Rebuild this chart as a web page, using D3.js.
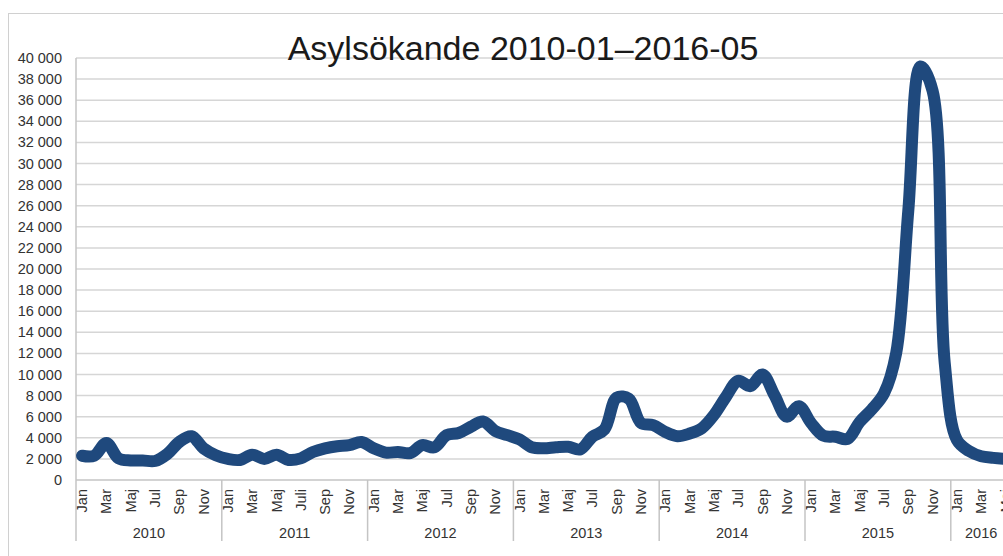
<!DOCTYPE html>
<html>
<head>
<meta charset="utf-8">
<script src="https://cdn.jsdelivr.net/npm/d3@7"></script>
<style>
  html, body { margin: 0; padding: 0; background: #fff; overflow: hidden; }
  svg { display: block; font-family: "Liberation Sans", Arial, sans-serif; }
</style>
</head>
<body>
<svg id="chart" width="1003" height="556"></svg>
<script>
// Asylum applications per month, Jan 2010 - May 2016
const years = [2010, 2011, 2012, 2013, 2014, 2015, 2016];
const monthNames = ["Jan", "Feb", "Mar", "Apr", "Maj", "Jun", "Jul", "Aug", "Sep", "Okt", "Nov", "Dec"];

const values2010 = [2300, 2300, 3500, 2050, 1850, 1850, 1800, 2450, 3600, 4150, 3000, 2350];
const values2011 = [2000, 1900, 2400, 2000, 2400, 1900, 2050, 2650, 3000, 3200, 3300, 3600];
const values2012 = [3000, 2600, 2650, 2550, 3300, 3100, 4250, 4450, 5050, 5550, 4650, 4250];
const values2013 = [3850, 3100, 3000, 3100, 3150, 2900, 4100, 4800, 7800, 7700, 5400, 5200];
const values2014 = [4550, 4150, 4400, 4900, 6150, 7900, 9400, 8900, 10000, 8000, 6000, 7000];
const values2015 = [5400, 4200, 4100, 3900, 5500, 6700, 8200, 12000, 25500, 39200, 36900, 11100];
const values2016 = [3800, 2750, 2250, 2100, 2000];

const yTicks = d3.range(0, 40001, 2000);

// flat series + category keys
const series = [values2010, values2011, values2012, values2013, values2014, values2015, values2016];
const data = [];
series.forEach((vals, yi) => {
    vals.forEach((v, mi) => {
        let label = monthNames[mi];
        if (years[yi] === 2011 && mi === 6) label = "Juli";
        data.push({ key: years[yi] + "-" + (mi + 1), year: years[yi], month: mi, label: label, value: v });
    });
});

const svg = d3.select("#chart");
const plotLeft = 76, plotTop = 58, plotBottom = 480;
const step = 12.15;
const plotRight = plotLeft + data.length * step;

const x = d3.scaleBand()
    .domain(data.map(d => d.key))
    .range([plotLeft, plotRight])
    .padding(0);

const y = d3.scaleLinear()
    .domain([0, 40000])
    .range([plotBottom, plotTop]);

const fmt = d3.formatLocale({ decimal: ",", thousands: "\u00a0", grouping: [3], currency: ["", " kr"] }).format(",d");

// chart frame
svg.append("rect")
    .attr("x", 8.5).attr("y", 13.5)
    .attr("width", 1100).attr("height", 600)
    .attr("fill", "none")
    .attr("stroke", "#d0d0d0");

// gridlines
svg.append("g")
    .selectAll("line")
    .data(yTicks)
    .enter()
    .append("line")
    .attr("x1", plotLeft).attr("x2", plotRight)
    .attr("y1", d => y(d)).attr("y2", d => y(d))
    .attr("stroke", d => d === 0 ? "#c4c4c4" : "#d6d6d6")
    .attr("stroke-width", 1.5);

// y axis line
svg.append("line")
    .attr("x1", plotLeft).attr("x2", plotLeft)
    .attr("y1", plotTop).attr("y2", 541)
    .attr("stroke", "#c4c4c4")
    .attr("stroke-width", 1.5);

// y labels
svg.append("g")
    .selectAll("text")
    .data(yTicks)
    .enter()
    .append("text")
    .attr("x", 62)
    .attr("y", d => y(d))
    .attr("dy", "0.35em")
    .attr("text-anchor", "end")
    .attr("font-size", 14.5)
    .attr("fill", "#333")
    .text(d => fmt(d));

// year separators
const yearStarts = data.filter(d => d.month === 0);
svg.append("g")
    .selectAll("line")
    .data(yearStarts.slice(1))
    .enter()
    .append("line")
    .attr("x1", d => x(d.key)).attr("x2", d => x(d.key))
    .attr("y1", plotBottom).attr("y2", 541)
    .attr("stroke", "#c4c4c4")
    .attr("stroke-width", 1.5);

// month labels (every other month)
svg.append("g")
    .selectAll("text")
    .data(data.filter(d => d.month % 2 === 0))
    .enter()
    .append("text")
    .attr("transform", d => `translate(${x(d.key) + x.bandwidth() / 2},489) rotate(-90)`)
    .attr("dy", "0.35em")
    .attr("text-anchor", "end")
    .attr("font-size", 14.5)
    .attr("fill", "#333")
    .text(d => d.label);

// year labels, centred on each year's months
svg.append("g")
    .selectAll("text")
    .data(years)
    .enter()
    .append("text")
    .attr("x", yr => {
        const ks = data.filter(d => d.year === yr);
        const x0 = x(ks[0].key);
        const x1 = x(ks[ks.length - 1].key) + x.bandwidth();
        return (x0 + x1) / 2;
    })
    .attr("y", 538)
    .attr("text-anchor", "middle")
    .attr("font-size", 14.5)
    .attr("fill", "#333")
    .text(d => d);

// data line
const line = d3.line()
    .x(d => x(d.key) + x.bandwidth() / 2)
    .y(d => y(d.value))
    .curve(d3.curveCatmullRom);

svg.append("path")
    .datum(data)
    .attr("d", line)
    .attr("fill", "none")
    .attr("stroke", "#1f497d")
    .attr("stroke-width", 12)
    .attr("stroke-linecap", "round")
    .attr("stroke-linejoin", "round");

// title
svg.append("text")
    .attr("x", 523)
    .attr("y", 60)
    .attr("text-anchor", "middle")
    .attr("font-size", 34)
    .attr("fill", "#1a1a1a")
    .text("Asylsökande 2010-01–2016-05");
</script>
</body>
</html>
